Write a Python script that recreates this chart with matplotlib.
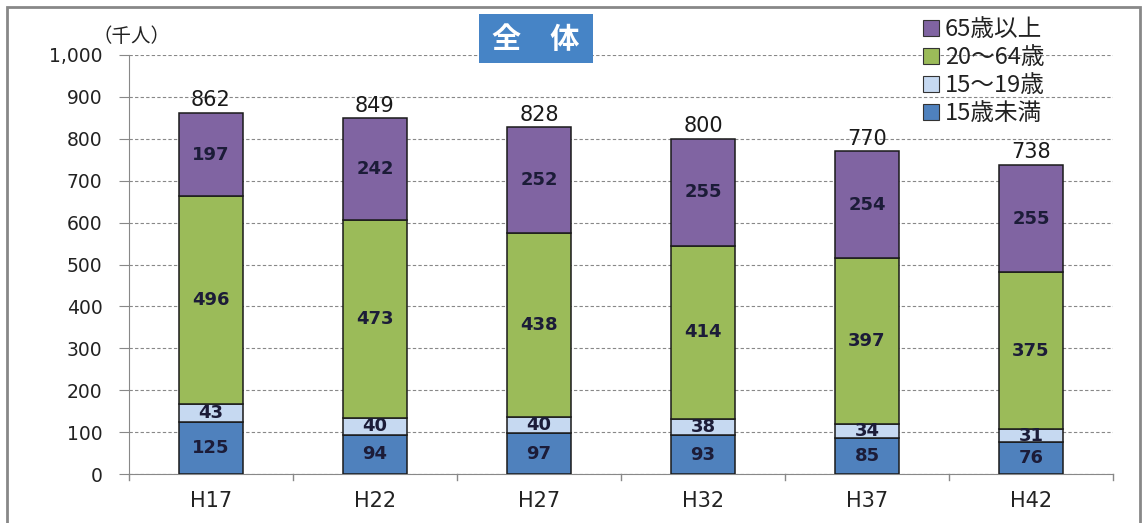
import matplotlib
matplotlib.use("Agg")
import matplotlib.pyplot as plt
import numpy as np
from matplotlib.patches import Rectangle
from matplotlib.lines import Line2D

plt.rcParams['font.family'] = ['Noto Sans CJK JP', 'DejaVu Sans']

categories = ["H17", "H22", "H27", "H32", "H37", "H42"]
under15 = [125, 94, 97, 93, 85, 76]
age15_19 = [43, 40, 40, 38, 34, 31]
age20_64 = [496, 473, 438, 414, 397, 375]
age65 = [197, 242, 252, 255, 254, 255]
totals = [862, 849, 828, 800, 770, 738]
series_names = ["15歳未満", "15〜19歳", "20〜64歳", "65歳以上"]
colors = ["#4F81BD", "#C6D9F1", "#9BBB59", "#8064A2"]
yticks = [0, 100, 200, 300, 400, 500, 600, 700, 800, 900, 1000]

fig = plt.figure(figsize=(11.44, 5.23), dpi=100)
ax = fig.add_axes([129/1144, 1-474/523, (1113-129)/1144, (474-55)/523])

x = np.arange(len(categories))
w = 0.39
bottom = np.zeros(len(categories))
series = [under15, age15_19, age20_64, age65]
for vals, c in zip(series, colors):
    vals = np.array(vals)
    ax.bar(x, vals, w, bottom=bottom, color=c, edgecolor="#1a1a1a", linewidth=1.1, zorder=3)
    for xi, b, v in zip(x, bottom, vals):
        ax.text(xi, b + v/2, str(v), ha="center", va="center", fontsize=13,
                fontweight="bold", color="#1c1c38", family="DejaVu Sans", zorder=4)
    bottom = bottom + vals

for xi, t in zip(x, totals):
    ax.text(xi, t + 6, str(t), ha="center", va="bottom", fontsize=15,
            color="#1a1a1a", family="DejaVu Sans", zorder=4)

ax.set_xlim(-0.5, len(categories) - 0.5)
ax.set_ylim(0, 1000)
ax.set_yticks(yticks)
ax.set_yticklabels([f"{v:,}" for v in yticks], fontsize=13.5, family="DejaVu Sans", color="#222222")
ax.set_xticks(x)
ax.set_xticklabels(categories, fontsize=15, family="DejaVu Sans", color="#222222")
ax.tick_params(axis="x", length=0, pad=12)
ax.tick_params(axis="y", length=7, color="#888888", pad=12)
for b in np.arange(-0.5, len(categories), 1.0):
    ax.plot([b, b], [0, -15], color="#888888", lw=1, clip_on=False, zorder=2)

ax.yaxis.grid(True, linestyle=(0, (3, 2)), color="#888888", lw=0.8, zorder=0)
ax.set_axisbelow(True)
for s in ["top", "right"]:
    ax.spines[s].set_visible(False)
ax.spines["left"].set_color("#888888")
ax.spines["bottom"].set_color("#888888")

# unit label
fig.text(92/1144, 1-36/523, "（千人）", fontsize=14, ha="left", va="center", color="#222222")

# title box
fig.patches.append(Rectangle((479/1144, 1-63/523), 114/1144, 49/523,
                             transform=fig.transFigure, facecolor="#4684C6",
                             edgecolor="none", zorder=5))
fig.text(536/1144, 1-39/523, "全　体", fontsize=21, fontweight="bold", color="white",
         ha="center", va="center", zorder=6)

# legend
handles = [Line2D([], [], marker="s", linestyle="none", markersize=11,
                  markerfacecolor=c, markeredgecolor="#333333", markeredgewidth=0.8)
           for c in colors[::-1]]
leg = fig.legend(handles, series_names[::-1], loc="upper left",
                 bbox_to_anchor=(907/1144, 1-6/523), frameon=False, fontsize=17,
                 handletextpad=0.1, labelspacing=0.22, handlelength=1.0, borderpad=0)
for t in leg.get_texts():
    t.set_color("#222222")

# outer border
fig.patches.append(Rectangle((7/1144, -0.05), 1133/1144, 1.05 - 7/523,
                             transform=fig.transFigure, facecolor="none",
                             edgecolor="#888888", lw=2, zorder=0))

fig.savefig("out.png", dpi=100)
